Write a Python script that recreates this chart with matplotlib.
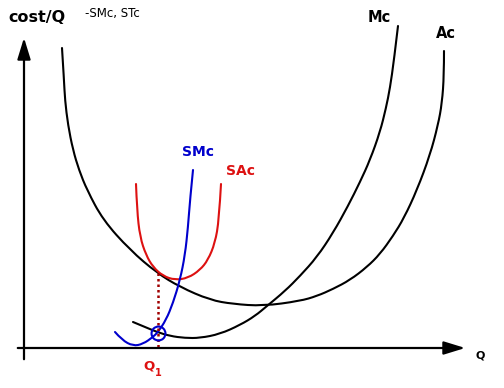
import matplotlib
matplotlib.use("Agg")
import matplotlib.pyplot as plt
from matplotlib.path import Path
from matplotlib.patches import PathPatch

# curves (pixel coords, y grows downward)
ac_x = [62, 64, 65, 68, 73, 79, 87, 103, 130, 157, 180, 210, 233, 263, 300, 317, 333, 350, 367, 380, 393, 404, 417, 430, 438, 442, 444, 444]
ac_y = [48, 80, 100, 125, 150, 170, 190, 220, 250, 273, 287, 300, 304, 306, 301, 296, 289, 280, 267, 254, 236, 218, 190, 155, 125, 103, 75, 51]

mc_x = [133, 145, 157, 170, 185, 200, 220, 240, 255, 267, 285, 300, 317, 333, 348, 360, 370, 380, 386, 390, 394, 398]
mc_y = [322, 327, 332, 336, 338, 338, 334, 325, 316, 306, 291, 276, 257, 233, 206, 182, 160, 132, 108, 88, 60, 26]

smc_x = [115, 122, 133, 143, 153, 158, 166, 173, 180, 185, 188, 190, 193]
smc_y = [332, 340, 346, 344, 337, 332, 320, 303, 280, 255, 227, 200, 170]

sac_x = [136, 137, 140, 146, 153, 163, 175, 188, 200, 208, 215, 219, 221]
sac_y = [184, 210, 237, 255, 267, 276, 280, 278, 270, 260, 243, 220, 184]

q1_x = 158
q1_top = 273
q1_bottom = 348


def smooth_curve(ax, xs, ys, color):
    # quadratic bezier through midpoints, the read points act as controls
    pts = list(zip(xs, ys))
    verts = [pts[0]]
    codes = [Path.MOVETO]
    for i in range(1, len(pts) - 1):
        mid = ((pts[i][0] + pts[i + 1][0]) / 2, (pts[i][1] + pts[i + 1][1]) / 2)
        if i == len(pts) - 2:
            mid = pts[-1]
        verts += [pts[i], mid]
        codes += [Path.CURVE3, Path.CURVE3]
    ax.add_patch(PathPatch(Path(verts, codes), fill=False, edgecolor=color, lw=1.5, capstyle="round"))


fig = plt.figure(figsize=(5.04, 3.88), dpi=100)
ax = fig.add_axes([0, 0, 1, 1])
ax.set_xlim(0, 504)
ax.set_ylim(388, 0)
ax.axis("off")

# axes with arrows
ax.annotate("", xy=(24, 35), xytext=(24, 362),
            arrowprops=dict(arrowstyle="-|>,head_length=1.3,head_width=0.4", color="black", lw=1.6))
ax.annotate("", xy=(468, 348), xytext=(15, 348),
            arrowprops=dict(arrowstyle="-|>,head_length=1.3,head_width=0.4", color="black", lw=1.6))

smooth_curve(ax, ac_x, ac_y, "black")
smooth_curve(ax, mc_x, mc_y, "black")
smooth_curve(ax, sac_x, sac_y, "#dd1111")
smooth_curve(ax, smc_x, smc_y, "#0000cc")

ax.plot([q1_x, q1_x], [q1_top, q1_bottom], color="#a00000", lw=1.8, ls=(0, (1, 1.2)))
ax.plot([q1_x], [333], marker="o", ms=10, mfc="none", mec="#0000cc", mew=1.5)

ax.text(8, 18, "cost/Q", fontsize=11.5, fontweight="bold", va="center", ha="left")
ax.text(85, 13, "-SMc, STc", fontsize=8.5, va="center", ha="left")
ax.text(368, 18, "Mc", fontsize=10.5, fontweight="bold", va="center", ha="left")
ax.text(436, 33, "Ac", fontsize=10.5, fontweight="bold", va="center", ha="left")
ax.text(182, 152, "SMc", fontsize=10, fontweight="bold", color="#0000cc", va="center", ha="left")
ax.text(226, 171, "SAc", fontsize=10, fontweight="bold", color="#dd1111", va="center", ha="left")
ax.text(143, 366, "Q", fontsize=9.5, fontweight="bold", color="#dd1111", va="center", ha="left")
ax.text(155, 373, "1", fontsize=7, fontweight="bold", color="#dd1111", va="center", ha="left")
ax.text(475, 355, "Q", fontsize=8, fontweight="bold", va="center", ha="left")

fig.savefig("out.png", dpi=100)
